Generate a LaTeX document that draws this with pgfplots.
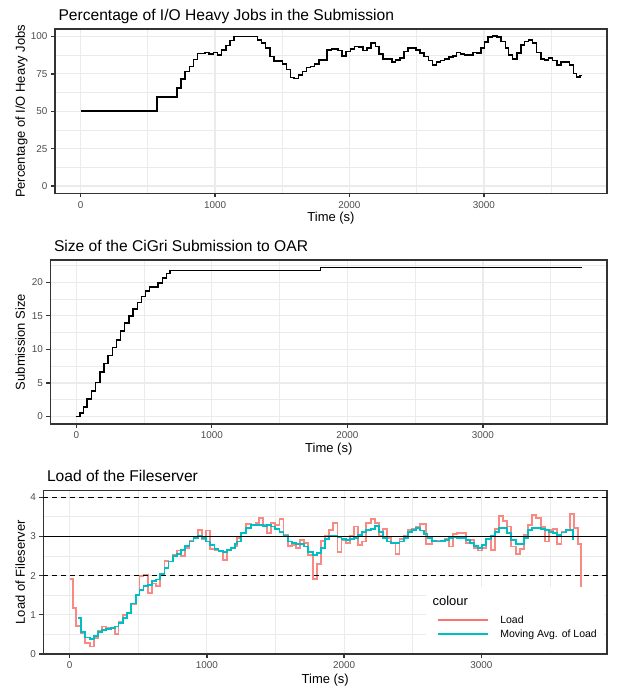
\documentclass[border=0pt]{standalone}
\usepackage{fontspec}
\setmainfont{Liberation Sans}
\usepackage{pgfplots}
\pgfplotsset{compat=1.18}
\definecolor{gg92}{HTML}{EBEBEB}
\definecolor{gg20}{HTML}{333333}
\definecolor{gg30}{HTML}{4D4D4D}
\definecolor{ggred}{HTML}{F8766D}
\definecolor{ggredkey}{HTML}{F8766D}
\definecolor{ggcyan}{HTML}{00BFC4}
\newcommand{\labfont}{\fontsize{13}{15}\selectfont}
\newcommand{\legkey}[1]{\hspace*{5.7pt}\textcolor{#1}{\rule[3pt]{49.3pt}{2pt}}\hspace*{12.7pt}}
\pgfplotsset{
  ggbase/.style={
    scale only axis,
    axis line style={draw=gg20, line width=1.3pt},
    tick align=outside,
    tick pos=left,
    major tick length=4pt,
    minor tick length=0pt,
    every tick/.style={draw=gg20, line width=1.3pt},
    tick label style={font=\fontsize{9.9}{11}\selectfont, text=gg30, inner sep=0pt},
    xticklabel style={anchor=north, yshift=-3.5pt},
    yticklabel style={anchor=east, xshift=-3.5pt},
    grid=both,
    major grid style={draw=gg92, line width=1.25pt},
    minor grid style={draw=gg92, line width=0.65pt},
    /pgf/number format/assume math mode=true,
    /pgf/number format/set thousands separator={},
    xmin=-190, xmax=3915,
    xtick={0,1000,2000,3000},
    minor xtick={500,1500,2500,3500},
    xlabel={Time (s)},
    every axis title/.style={at={(axis description cs:0,1)}, anchor=base west, yshift=8.5pt, font=\fontsize{15.6}{18}\selectfont},
  },
  steps/.style={const plot, line width=1.5pt, black},
}
\begin{document}
\begin{tikzpicture}
\useasboundingbox (0,0) rectangle (617pt,688pt);

% ---------- Top panel ----------
\begin{axis}[ggbase,
  at={(55pt,494.5pt)}, anchor=south west,
  width=552pt, height=164.5pt,
  ymin=-5, ymax=105,
  ytick={0,25,50,75,100},
  minor ytick={12.5,37.5,62.5,87.5},
  ylabel={Percentage of I/O Heavy Jobs},
  every axis x label/.style={at={(axis description cs:0.5,0)}, anchor=base, yshift=-28.5pt, font=\labfont},
  every axis y label/.style={at={(axis description cs:0,0.5)}, xshift=-30pt, rotate=90, anchor=base, font=\labfont},
  title={Percentage of I/O Heavy Jobs in the Submission},
]
\addplot[steps] coordinates {
(0,50)(567,59.5)(717,65.4)(747,71.4)(777,76.6)(809,79.8)(839,84.5)(871,88.6)(927,89.4)(957,88.2)(987,89.3)(1019,87.7)(1049,91)(1081,93.8)(1110,97.3)(1142,100)(1315,97.8)(1345,95.5)(1377,92.2)(1407,86.6)(1439,83.5)(1501,81.5)(1530,78)(1562,72.5)(1587,72)(1619,74.3)(1649,76.6)(1679,79.2)(1711,80)(1740,81.5)(1773,84.4)(1834,91)(1866,91.7)(1916,90.6)(1946,87)(1975,90)(2007,91.5)(2039,93.3)(2069,92.9)(2099,90.6)(2131,92.2)(2160,95.8)(2193,93.3)(2221,88.4)(2251,85)(2315,82.8)(2344,84.4)(2374,85.5)(2406,90)(2436,92.2)(2493,91)(2525,88.8)(2554,86.6)(2586,83.9)(2616,81)(2646,82.8)(2678,83.9)(2707,85)(2740,86.2)(2769,87)(2794,89.3)(2826,88.4)(2856,87.7)(2917,89.3)(2949,88.8)(2979,92.2)(3004,96.2)(3031,99.6)(3065,100.3)(3098,99.6)(3127,96.7)(3159,92.2)(3184,87.7)(3214,84.8)(3246,88.8)(3275,94.4)(3302,96.7)(3332,97.8)(3362,95.5)(3389,89.3)(3423,84.8)(3451,84.4)(3480,85.5)(3510,83.9)(3542,81)(3574,82.8)(3636,81)(3665,75.4)(3690,72.8)(3715,73.9)(3727,73.9)
};
\end{axis}

% ---------- Middle panel ----------
\begin{axis}[ggbase,
  at={(50.5pt,264pt)}, anchor=south west,
  width=556.5pt, height=164pt,
  ymin=-1.11, ymax=23.3,
  ytick={0,5,10,15,20},
  minor ytick={2.5,7.5,12.5,17.5,22.5},
  ylabel={Submission Size},
  every axis x label/.style={at={(axis description cs:0.5,0)}, anchor=base, yshift=-28.5pt, font=\labfont},
  every axis y label/.style={at={(axis description cs:0,0.5)}, xshift=-25.5pt, rotate=90, anchor=base, font=\labfont},
  title={Size of the CiGri Submission to OAR},
]
\addplot[steps] coordinates {
(0,0)(27,0.5)(52,1.4)(81,2.6)(111,3.8)(143,5.1)(175,6.6)(204,7.9)(234,9.1)(266,10.3)(296,11.4)(328,12.7)(357,13.9)(389,15)(419,16)(451,17)(480,17.9)(512,18.7)(542,19.3)(603,19.9)(635,20.6)(665,21.3)(692,21.75)(1800,22.2)(3727,22.2)
};
\end{axis}

% ---------- Bottom panel ----------
\begin{axis}[ggbase,
  at={(43.5pt,34pt)}, anchor=south west,
  width=563.5pt, height=163.5pt,
  ymin=0, ymax=4.17,
  ytick={0,1,2,3,4},
  minor ytick={0.5,1.5,2.5,3.5},
  ylabel={Load of Fileserver},
  every axis x label/.style={at={(axis description cs:0.5,0)}, anchor=base, yshift=-29.5pt, font=\labfont},
  every axis y label/.style={at={(axis description cs:0,0.5)}, xshift=-18.5pt, rotate=90, anchor=base, font=\labfont},
  title={Load of the Fileserver},
  legend style={
    at={(0.9947,0.4116)}, anchor=north east,
    fill=white, draw=none,
    inner xsep=7pt, inner ysep=11.6pt,
    column sep=0pt, row sep=0pt,
    nodes={inner sep=0pt, text height=11pt, text depth=3pt, font=\fontsize{10.5}{12}\selectfont},
  },
  legend cell align=left,
]
\addlegendimage{empty legend}
\addlegendentry{\raisebox{4.3pt}{\labfont colour}}
\addlegendimage{empty legend}
\addlegendentry{\legkey{ggredkey}Load}
\addlegendimage{empty legend}
\addlegendentry{\legkey{ggcyan}Moving Avg. of Load}
\addplot[const plot, line width=1.8pt, ggred, opacity=0.85, forget plot] coordinates {
(0,1.92)(24,1.17)(49,0.71)(85,0.53)(114,0.29)(146,0.19)(177,0.40)(206,0.6)(238,0.7)(267,0.67)(299,0.65)(328,0.51)(357,0.83)(388,1.0)(417,1.05)(449,1.28)(481,1.5)(510,1.99)(539,2.03)(570,1.55)(600,1.8)(631,1.74)(660,2.02)(692,2.38)(721,2.36)(752,2.53)(782,2.64)(813,2.49)(842,2.7)(874,2.89)(903,2.95)(934,3.17)(964,2.93)(995,3.15)(1024,2.67)(1056,2.66)(1085,2.63)(1117,2.4)(1146,2.66)(1177,2.7)(1206,2.76)(1222,2.95)(1251,3.08)(1287,3.31)(1324,3.28)(1355,3.35)(1379,3.46)(1408,3.29)(1440,3.08)(1469,3.34)(1498,3.29)(1529,3.45)(1558,3.04)(1589,2.76)(1618,2.77)(1650,2.71)(1679,2.91)(1710,2.83)(1739,2.53)(1771,1.91)(1800,2.29)(1831,2.89)(1860,3.0)(1891,3.17)(1920,3.34)(1952,2.61)(1981,2.91)(2012,2.83)(2041,3.0)(2072,3.25)(2101,2.78)(2133,2.87)(2162,3.34)(2193,3.44)(2222,3.34)(2254,3.0)(2283,3.18)(2314,2.95)(2343,2.83)(2374,2.55)(2403,2.93)(2435,3.0)(2464,3.17)(2495,3.18)(2524,3.25)(2550,3.31)(2595,2.81)(2638,2.87)(2672,2.89)(2704,2.89)(2733,2.93)(2765,2.74)(2794,3.06)(2825,3.08)(2854,3.08)(2886,2.83)(2915,2.91)(2947,2.7)(2976,2.64)(3007,2.7)(3036,2.93)(3068,2.66)(3097,3.18)(3129,3.51)(3158,3.4)(3189,3.25)(3218,2.74)(3250,2.55)(3279,2.67)(3311,3.04)(3340,3.29)(3371,3.55)(3400,3.46)(3432,3.23)(3461,2.87)(3493,3.17)(3522,3.18)(3553,2.81)(3583,3.12)(3614,3.17)(3643,3.57)(3675,3.21)(3704,2.81)(3728,1.72)
};
\addplot[const plot, line width=1.8pt, ggcyan, forget plot] coordinates {
(61,0.91)(85,0.57)(114,0.42)(146,0.38)(177,0.46)(206,0.57)(238,0.61)(267,0.64)(299,0.67)(328,0.70)(357,0.8)(388,0.91)(417,1.05)(449,1.29)(481,1.5)(510,1.63)(539,1.74)(570,1.76)(600,1.87)(631,1.9)(660,2.04)(692,2.19)(721,2.36)(752,2.5)(782,2.55)(813,2.66)(842,2.76)(874,2.87)(903,2.95)(934,3.0)(964,2.95)(995,2.87)(1024,2.78)(1056,2.67)(1085,2.63)(1117,2.61)(1146,2.66)(1177,2.7)(1206,2.8)(1222,2.87)(1251,3.08)(1287,3.22)(1324,3.29)(1408,3.27)(1440,3.28)(1469,3.25)(1498,3.18)(1529,3.12)(1558,3.0)(1589,2.87)(1618,2.83)(1650,2.8)(1710,2.74)(1739,2.61)(1771,2.53)(1800,2.57)(1831,2.7)(1860,2.93)(1891,3.0)(1920,3.02)(1952,2.98)(1981,2.93)(2012,2.91)(2041,2.93)(2072,2.95)(2101,3.04)(2133,3.11)(2162,3.17)(2193,3.18)(2222,3.27)(2254,3.12)(2283,2.95)(2314,2.87)(2343,2.84)(2374,2.83)(2403,2.87)(2435,2.95)(2464,3.12)(2495,3.17)(2524,3.22)(2552,3.15)(2580,3.06)(2607,2.95)(2638,2.89)(2672,2.87)(2704,2.89)(2733,2.91)(2765,2.95)(2794,2.98)(2825,2.95)(2886,2.91)(2915,2.84)(2947,2.76)(2976,2.7)(3007,2.78)(3036,2.93)(3068,3.0)(3097,3.12)(3129,3.21)(3189,3.08)(3218,2.91)(3250,2.81)(3311,2.95)(3340,3.17)(3371,3.21)(3400,3.22)(3432,3.18)(3461,3.17)(3493,3.12)(3522,3.08)(3553,3.04)(3583,3.1)(3614,3.17)(3667,2.91)
};
\addplot[black, line width=1.3pt, dash pattern=on 5pt off 4pt, forget plot] coordinates {(-190,2)(3915,2)};
\addplot[black, line width=1.3pt, dash pattern=on 5pt off 4pt, forget plot] coordinates {(-190,4)(3915,4)};
\addplot[black, line width=1.3pt, forget plot] coordinates {(-190,3)(3915,3)};
\end{axis}
\end{tikzpicture}
\end{document}
